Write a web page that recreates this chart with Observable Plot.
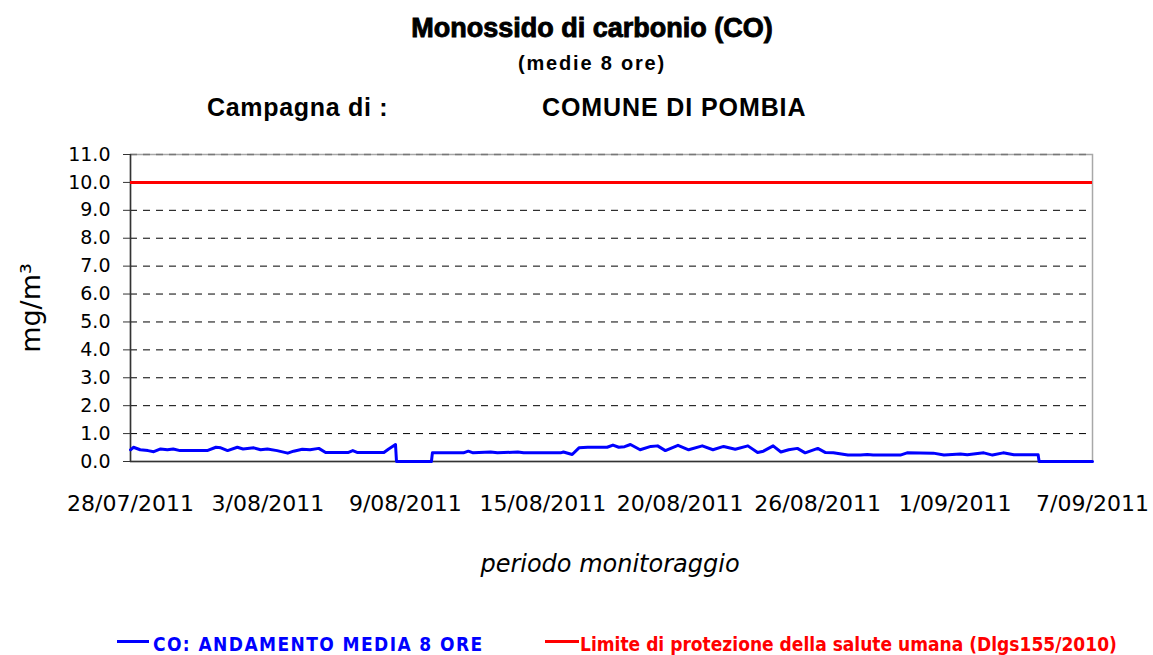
<!DOCTYPE html>
<html>
<head>
<meta charset="utf-8">
<script src="https://cdn.jsdelivr.net/npm/d3@7"></script>
<script src="https://cdn.jsdelivr.net/npm/@observablehq/plot@0.6"></script>
<style>
  body { margin: 0; background: #fff; }
  #wrap { position: relative; width: 1153px; height: 655px; overflow: hidden; background: #fff; }
  .t { position: absolute; white-space: nowrap; color: #000; font-family: "Liberation Sans", Arial, sans-serif; font-weight: bold; }
  #chart { position: absolute; left: 0; top: 140px; }
  .leg { position: absolute; top: 633px; font-family: "DejaVu Sans Condensed", "DejaVu Sans", sans-serif; font-stretch: condensed; font-weight: bold; font-size: 19px; white-space: nowrap; }
  .sw { position: absolute; height: 3px; top: 640px; }
</style>
</head>
<body>
<div id="wrap">
  <div class="t" style="left:292px; width:600px; top:13px; text-align:center; font-size:27px; -webkit-text-stroke:0.9px #000;">Monossido di carbonio (CO)</div>
  <div class="t" style="left:292px; width:600px; top:52px; text-align:center; font-size:20px; letter-spacing:1.8px;">(medie 8 ore)</div>
  <div class="t" style="left:207px; top:93px; font-size:25px; letter-spacing:0.7px;">Campagna di :</div>
  <div class="t" style="left:542px; top:93px; font-size:25px; letter-spacing:0.9px;">COMUNE DI POMBIA</div>
  <div id="chart"></div>
  <div class="t" style="left:310px; width:600px; top:550px; text-align:center; font-family:'DejaVu Sans', sans-serif; font-weight:normal; font-style:italic; font-size:24px;">periodo monitoraggio</div>
  <div class="sw" style="left:117px; width:32px; background:#0000ff;"></div>
  <div class="leg" style="left:153px; color:#0000ff; letter-spacing:1.4px;">CO: ANDAMENTO MEDIA 8 ORE</div>
  <div class="sw" style="left:545px; width:34px; background:#ff0000;"></div>
  <div class="leg" style="left:580px; color:#ff0000;">Limite di protezione della salute umana (Dlgs155/2010)</div>
</div>
<script>
// Series: 8-hour mean CO (mg/m3), timestamps (UTC)
const times = [
  "2011-07-28T08:00","2011-07-28T11:00","2011-07-28T18:00","2011-07-29T02:00","2011-07-29T08:00",
  "2011-07-29T15:00","2011-07-29T22:00","2011-07-30T04:00","2011-07-30T11:00","2011-07-31T15:00",
  "2011-08-01T00:00","2011-08-01T05:00","2011-08-01T12:00","2011-08-01T22:00","2011-08-02T04:00",
  "2011-08-02T15:00","2011-08-02T22:00","2011-08-03T05:00","2011-08-03T15:00","2011-08-04T02:00",
  "2011-08-04T08:00","2011-08-04T17:00","2011-08-05T01:00","2011-08-05T10:00","2011-08-05T17:00",
  "2011-08-06T16:00","2011-08-06T21:00","2011-08-07T02:00","2011-08-08T05:00","2011-08-08T10:00",
  "2011-08-08T17:00","2011-08-08T18:00","2011-08-10T06:00","2011-08-10T07:00","2011-08-11T15:00",
  "2011-08-11T20:00","2011-08-12T01:00","2011-08-12T19:00","2011-08-13T02:00","2011-08-13T23:00",
  "2011-08-14T05:00","2011-08-15T19:00","2011-08-15T22:00","2011-08-16T07:00","2011-08-16T14:00",
  "2011-08-16T23:00","2011-08-17T19:00","2011-08-18T01:00","2011-08-18T07:00","2011-08-18T13:00",
  "2011-08-18T19:00","2011-08-19T05:00","2011-08-19T16:00","2011-08-19T23:00","2011-08-20T07:00",
  "2011-08-20T20:00","2011-08-21T07:00","2011-08-21T21:00","2011-08-22T08:00","2011-08-22T19:00",
  "2011-08-23T07:00","2011-08-23T20:00","2011-08-24T06:00","2011-08-24T12:00","2011-08-24T22:00",
  "2011-08-25T06:00","2011-08-25T14:00","2011-08-25T23:00","2011-08-26T07:00","2011-08-26T20:00",
  "2011-08-27T04:00","2011-08-27T12:00","2011-08-28T03:00","2011-08-28T16:00","2011-08-28T23:00",
  "2011-08-29T05:00","2011-08-30T09:00","2011-08-30T16:00","2011-08-31T19:00","2011-09-01T06:00",
  "2011-09-01T23:00","2011-09-02T06:00","2011-09-02T23:00","2011-09-03T08:00","2011-09-03T19:00",
  "2011-09-04T06:00","2011-09-05T07:00","2011-09-05T08:00","2011-09-07T15:00"
];
const coValues = [
  0.42,0.51,0.42,0.39,0.35,
  0.45,0.42,0.45,0.39,0.39,
  0.51,0.49,0.39,0.51,0.45,
  0.49,0.42,0.45,0.39,0.30,
  0.37,0.44,0.42,0.47,0.32,
  0.32,0.39,0.32,0.32,0.45,
  0.61,0.00,0.00,0.31,0.31,
  0.37,0.31,0.34,0.31,0.34,
  0.31,0.31,0.34,0.25,0.49,
  0.51,0.51,0.59,0.51,0.53,
  0.61,0.42,0.54,0.56,0.39,
  0.58,0.42,0.56,0.42,0.54,
  0.44,0.56,0.32,0.37,0.56,
  0.34,0.42,0.47,0.31,0.47,
  0.32,0.31,0.23,0.23,0.25,
  0.23,0.23,0.31,0.30,0.23,
  0.27,0.24,0.31,0.23,0.31,
  0.24,0.24,0.00,0.00
];
// Campaign period (x domain) and limit value
const periodStart = "2011-07-28T08:00";
const periodEnd = "2011-09-07T15:00";
const limitValue = [10];
const yTicks = [0,1,2,3,4,5,6,7,8,9,10,11];
const gridValues = [1,2,3,4,5,6,7,8,9];
const topValue = [11];
const xTickCount = 8;

const parse = d3.utcParse("%Y-%m-%dT%H:%M");
const data = times.map((t, i) => ({date: parse(t), co: coValues[i]}));
const x0 = parse(periodStart), x1 = parse(periodEnd);
const xTicks = d3.range(xTickCount).map(i => new Date(+x0 + i * (x1 - x0) / (xTickCount - 1)));

const chart = Plot.plot({
  width: 1153,
  height: 400,
  marginTop: 14,
  marginBottom: 79,
  marginLeft: 130,
  marginRight: 61,
  style: {fontFamily: "DejaVu Sans, sans-serif", background: "#fff", color: "#000"},
  x: {type: "utc", domain: [x0, x1]},
  y: {domain: [0, 11]},
  marks: [
    Plot.frame({stroke: "#a8a8a8", strokeWidth: 1.5}),
    Plot.ruleY(topValue, {stroke: "#777", strokeDasharray: "7,6", strokeWidth: 1.5}),
    Plot.ruleY(gridValues, {stroke: "#000", strokeDasharray: "7,6", strokeWidth: 1}),
    Plot.ruleY([0], {stroke: "#333", strokeWidth: 1.5}),
    Plot.ruleX([x0], {stroke: "#333", strokeWidth: 1.5}),
    Plot.ruleY(limitValue, {stroke: "#ff0000", strokeWidth: 3}),
    Plot.line(data, {x: "date", y: "co", stroke: "#0000ff", strokeWidth: 3, curve: "linear"}),
    Plot.axisY({
      ticks: yTicks, tickFormat: d => d.toFixed(1), tickSize: 7, tickPadding: 13,
      fontSize: 19, stroke: "#333", strokeWidth: 1,
      label: "mg/m³", labelAnchor: "center", labelArrow: "none", labelOffset: 110
    }),
    Plot.axisX({
      ticks: xTicks, tickFormat: d3.utcFormat("%-d/%m/%Y"), tickSize: 0, tickPadding: 34,
      fontSize: 22, label: null
    })
  ]
});
document.getElementById("chart").appendChild(chart);
const yl = chart.querySelector('g[aria-label="y-axis label"] text');
if (yl) { yl.setAttribute("font-size", "27"); yl.style.fontSize = "27px"; }
</script>
</body>
</html>
